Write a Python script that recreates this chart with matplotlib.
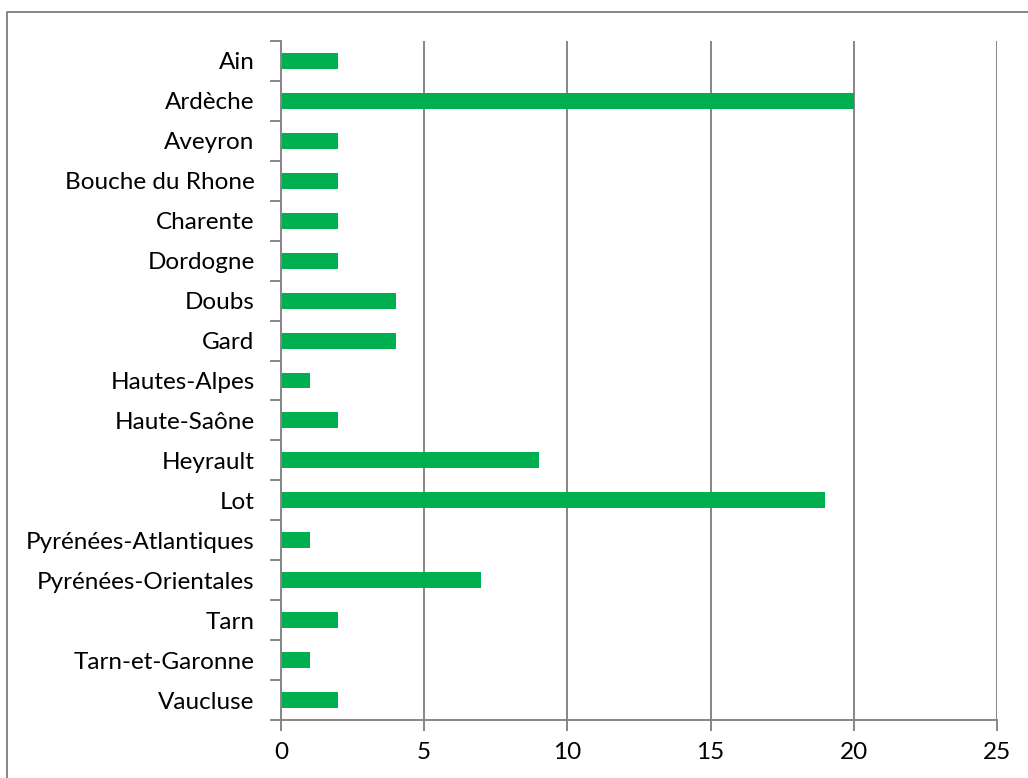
import matplotlib.pyplot as plt
from matplotlib.lines import Line2D
import numpy as np

# Departements and counts
departements = ['Ain', 'Ardèche', 'Aveyron', 'Bouche du Rhone', 'Charente',
                'Dordogne', 'Doubs', 'Gard', 'Hautes-Alpes', 'Haute-Saône',
                'Heyrault', 'Lot', 'Pyrénées-Atlantiques', 'Pyrénées-Orientales',
                'Tarn', 'Tarn-et-Garonne', 'Vaucluse']
valeurs = [2, 20, 2, 2, 2, 2, 4, 4, 1, 2, 9, 19, 1, 7, 2, 1, 2]
x_ticks = [0, 5, 10, 15, 20, 25]

green = '#00B050'
gray = '#868686'

plt.rcParams['font.family'] = ['Lato', 'DejaVu Sans']

fig = plt.figure(figsize=(10.28, 7.78), dpi=100)
ax = fig.add_axes([281 / 1028, 1 - 720 / 778, (997 - 281) / 1028, (720 - 41) / 778])

pos = np.arange(len(departements))
ax.barh(pos, valeurs, height=0.4, color=green, zorder=3)

ax.set_xlim(0, 25)
ax.set_ylim(len(departements) - 0.5, -0.5)

ax.set_xticks(x_ticks)
ax.set_xticklabels([str(t) for t in x_ticks], fontsize=17.5)
ax.set_yticks(pos)
ax.set_yticklabels(departements, fontsize=17.5)
ax.set_yticks(np.arange(len(departements) + 1) - 0.5, minor=True)

ax.tick_params(axis='y', which='major', length=0, pad=19)
ax.tick_params(axis='y', which='minor', length=8, width=1.4, color=gray)
ax.tick_params(axis='x', length=8, width=1.4, color=gray, pad=8)

ax.grid(axis='x', color=gray, linewidth=1.4, zorder=0)
for side in ['top', 'right']:
    ax.spines[side].set_visible(False)
for side in ['left', 'bottom']:
    ax.spines[side].set_color(gray)
    ax.spines[side].set_linewidth(1.4)
    ax.spines[side].set_zorder(4)

# Chart frame (left and top edges)
fig.add_artist(Line2D([7 / 1028, 7 / 1028, 1.0], [0.0, 1 - 12 / 778, 1 - 12 / 778],
                      transform=fig.transFigure, color=gray, linewidth=1.4))

fig.savefig('out.png', dpi=100)
